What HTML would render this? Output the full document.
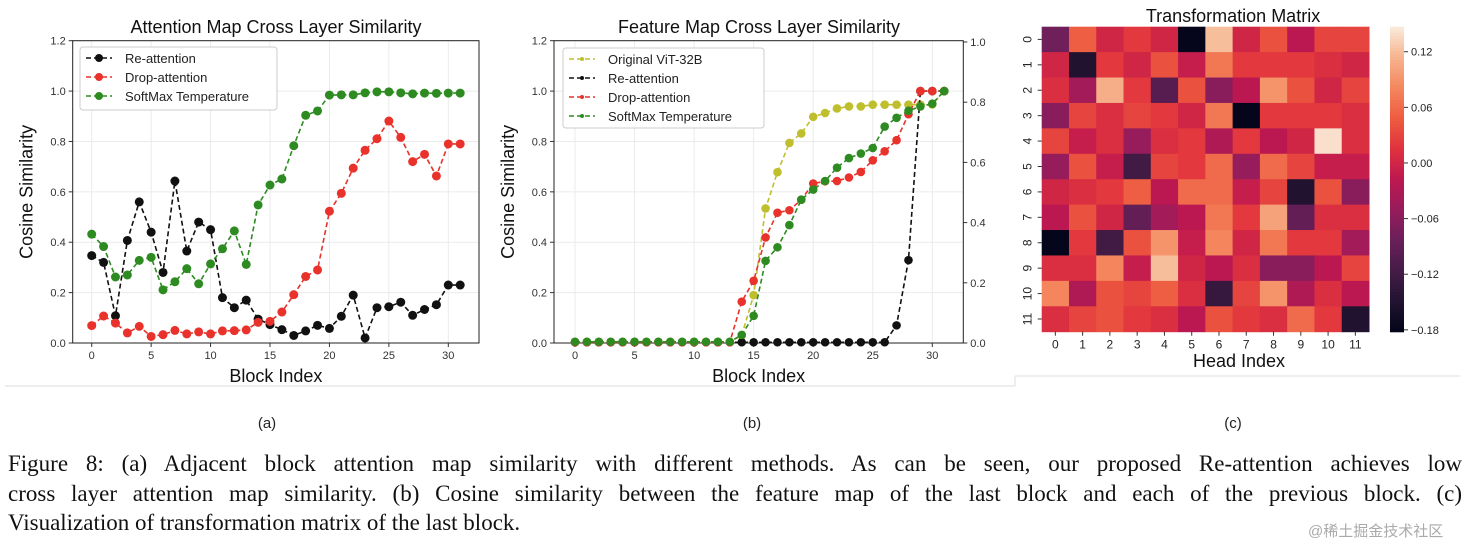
<!DOCTYPE html>
<html><head><meta charset="utf-8"><style>
body{margin:0;background:#fff;width:1474px;height:548px;overflow:hidden;position:relative;font-family:"Liberation Sans",sans-serif}
svg{position:absolute;left:0;top:0}
.cap{position:absolute;left:8px;width:1454px;font-family:"Liberation Serif",serif;font-size:23px;color:#111;text-align:justify;text-align-last:justify;white-space:nowrap}
</style></head><body>
<svg id="s" width="1474" height="548"></svg>
<div class="cap" style="top:451px;white-space:normal">Figure 8: (a) Adjacent block attention map similarity with different methods. As can be seen, our proposed Re-attention achieves low</div>
<div class="cap" style="top:481px;white-space:normal">cross layer attention map similarity. (b) Cosine similarity between the feature map of the last block and each of the previous block. (c)</div>
<div class="cap" style="top:510px;text-align-last:left">Visualization of transformation matrix of the last block.</div>
<div style="position:absolute;left:1308px;top:520px;font-family:'Liberation Sans','Noto Sans CJK SC',sans-serif;font-size:15px;color:#aaa">@稀土掘金技术社区</div>
<script>
const aRe=[0.347,0.32,0.108,0.407,0.56,0.44,0.28,0.643,0.365,0.48,0.45,0.18,0.14,0.17,0.095,0.073,0.053,0.03,0.048,0.07,0.058,0.106,0.19,0.02,0.14,0.144,0.162,0.11,0.133,0.152,0.23,0.23];
const aDrop=[0.069,0.107,0.079,0.04,0.066,0.026,0.033,0.05,0.036,0.044,0.036,0.048,0.049,0.052,0.082,0.086,0.123,0.192,0.264,0.29,0.523,0.594,0.694,0.765,0.811,0.881,0.816,0.72,0.749,0.663,0.79,0.79];
const aSoft=[0.432,0.383,0.262,0.27,0.328,0.34,0.211,0.243,0.295,0.235,0.314,0.374,0.445,0.312,0.548,0.627,0.651,0.783,0.904,0.921,0.984,0.985,0.985,0.993,0.997,0.997,0.993,0.989,0.992,0.991,0.992,0.992];
const bOrig=[0.005,0.005,0.005,0.005,0.005,0.005,0.005,0.005,0.005,0.005,0.005,0.005,0.005,0.005,0.03,0.19,0.534,0.678,0.794,0.832,0.898,0.913,0.931,0.939,0.939,0.946,0.946,0.946,0.946,0.946,0.947,1.0];
const bRe=[0.003,0.003,0.003,0.003,0.003,0.003,0.003,0.003,0.003,0.003,0.003,0.003,0.003,0.003,0.003,0.003,0.003,0.003,0.003,0.003,0.003,0.003,0.003,0.003,0.003,0.003,0.003,0.07,0.329,1.0,1.0,1.0];
const bDrop=[0.003,0.003,0.003,0.003,0.003,0.003,0.003,0.003,0.003,0.003,0.003,0.003,0.003,0.003,0.164,0.247,0.419,0.517,0.527,0.569,0.633,0.642,0.643,0.657,0.679,0.725,0.761,0.805,0.908,1.0,1.0,1.0];
const bSoft=[0.005,0.005,0.005,0.005,0.005,0.005,0.005,0.005,0.005,0.005,0.005,0.005,0.005,0.005,0.032,0.108,0.326,0.38,0.468,0.569,0.609,0.643,0.696,0.734,0.752,0.774,0.859,0.894,0.922,0.939,0.95,1.0];
const xTicks=[0,5,10,15,20,25,30];
const yTicks=["0.0","0.2","0.4","0.6","0.8","1.0","1.2"];
const y2Ticks=["0.0","0.2","0.4","0.6","0.8","1.0"];
const heat=[
[-0.08,0.05,0.0,0.02,0.0,-0.18,0.12,0.0,0.04,-0.02,0.03,0.03],
[0.0,-0.15,0.02,0.0,0.04,-0.01,0.07,0.02,0.02,0.02,0.01,0.0],
[0.01,-0.04,0.11,0.02,-0.10,0.04,-0.06,-0.02,0.09,0.04,0.0,0.03],
[-0.06,0.03,0.01,0.03,0.02,0.0,0.07,-0.18,0.02,0.02,0.02,0.01],
[0.03,-0.01,0.01,-0.05,0.01,0.02,-0.03,0.02,-0.02,0.0,0.14,0.01],
[-0.05,0.04,-0.01,-0.12,0.03,0.02,0.06,-0.05,0.06,0.03,-0.01,-0.01],
[0.0,0.01,0.02,0.05,-0.02,0.06,0.06,-0.01,0.03,-0.15,0.04,-0.06],
[-0.02,0.04,0.0,-0.09,-0.04,-0.02,0.07,0.02,0.10,-0.09,0.01,0.01],
[-0.18,0.02,-0.12,0.04,0.09,-0.01,0.08,0.0,0.07,0.02,0.02,-0.04],
[0.01,0.01,0.08,-0.01,0.12,0.0,-0.02,0.01,-0.06,-0.06,-0.02,0.03],
[0.08,-0.03,0.04,0.03,0.05,0.01,-0.13,0.03,0.09,-0.03,0.01,-0.02],
[0.01,0.03,0.04,0.02,0.01,-0.02,0.04,0.02,0.01,0.06,0.02,-0.15]];
const cbTicks=[0.12,0.06,0.0,-0.06,-0.12,-0.18];
const cbLabels=["0.12","0.06","0.00","\u22120.06","\u22120.12","\u22120.18"];

const S=document.getElementById('s');const NS='http://www.w3.org/2000/svg';
function mk(t,a,p){const e=document.createElementNS(NS,t);for(const k in a)e.setAttribute(k,a[k]);(p||S).appendChild(e);return e;}
function tx(x,y,s,sz,anc,extra){const e=mk('text',Object.assign({x:x,y:y,'font-size':sz,'text-anchor':anc||'middle','font-family':'Liberation Sans, sans-serif',fill:'#222'},extra||{}));e.textContent=s;return e;}

function lineChart(L,R,x0,x30,title,tcx,series,legend,lgBox,r,right){
  const T=40.7,B=343;
  const X=v=>x0+(x30-x0)*v/30, Y=v=>B-(B-T)*v/1.2;
  const g=mk('g',{});
  
  
  xTicks.forEach(t=>{mk('line',{x1:X(t),x2:X(t),y1:T,y2:B,stroke:'#ebebeb','stroke-width':1},g);mk('line',{x1:X(t),x2:X(t),y1:B,y2:B+4,stroke:'#333'},g);const e=tx(X(t),B+16,t,11,'middle',{fill:'#333'});g.appendChild(e);});
  yTicks.forEach((t,i)=>{const y=Y(i*0.2);mk('line',{x1:L,x2:R,y1:y,y2:y,stroke:'#ebebeb'},g);mk('line',{x1:L-4,x2:L,y1:y,y2:y,stroke:'#333'},g);const e=tx(L-7,y+4,t,11,'end',{fill:'#333'});g.appendChild(e);});
  if(right){y2Ticks.forEach((t,i)=>{const y=B-(B-42)*i/5;mk('line',{x1:R,x2:R+4,y1:y,y2:y,stroke:'#333'},g);const e=tx(R+7,y+4,t,11,'start',{fill:'#333'});g.appendChild(e);});}
  mk('rect',{x:L,y:T,width:R-L,height:B-T,fill:'none',stroke:'#222','stroke-width':1},g);
  series.forEach(s=>{
    const sg=mk('g',{},g);
    
    
    mk('polyline',{points:s.d.map((v,i)=>X(i)+','+Y(v)).join(' '),fill:'none',stroke:s.c,'stroke-width':1.6,'stroke-dasharray':'5,3'},sg);
    s.d.forEach((v,i)=>{mk('circle',{cx:X(i),cy:Y(v),r:r,fill:s.c},sg);});
  });
  const lg=mk('g',{},g);
  
  
  mk('rect',{x:lgBox[0],y:lgBox[1],width:lgBox[2],height:lgBox[3],fill:'#fff',stroke:'#ccc',rx:3},lg);
  legend.forEach((s,i)=>{const y=lgBox[1]+11+i*19;
    mk('line',{x1:lgBox[0]+6,x2:lgBox[0]+32,y1:y,y2:y,stroke:s.c,'stroke-width':1.6,'stroke-dasharray':'5,3'},lg);
    mk('circle',{cx:lgBox[0]+19,cy:y,r:s.m,fill:s.c},lg);
    const e=tx(lgBox[0]+45,y+5,s.label,13,'start',{fill:'#222'});lg.appendChild(e);});
  const t=tx(tcx,33,title,18,'middle',{fill:'#111'});
  const xl=tx((L+R)/2,382,'Block Index',18,'middle',{fill:'#111'});
  const yl=tx(0,0,'Cosine Similarity',18,'middle',{fill:'#111',transform:'translate('+(L-40)+','+((T+B)/2)+') rotate(-90)'});
}
const K='#111',RD='#e8322b',GR='#2e8b22',YL='#bfbf2e';
lineChart(72.7,479,91.7,448.3,'Attention Map Cross Layer Similarity',276,
 [{name:'re-attention',d:aRe,c:K},{name:'drop-attention',d:aDrop,c:RD},{name:'softmax-temperature',d:aSoft,c:GR}],
 [{label:'Re-attention',c:K,m:4},{label:'Drop-attention',c:RD,m:4},{label:'SoftMax Temperature',c:GR,m:4}],[80,47,197,63],4.5,false);
lineChart(554,963.3,575,932.3,'Feature Map Cross Layer Similarity',759,
 [{name:'original-vit',d:bOrig,c:YL},{name:'re-attention',d:bRe,c:K},{name:'drop-attention',d:bDrop,c:RD},{name:'softmax-temperature',d:bSoft,c:GR}],
 [{label:'Original ViT-32B',c:YL,m:2},{label:'Re-attention',c:K,m:2},{label:'Drop-attention',c:RD,m:2},{label:'SoftMax Temperature',c:GR,m:2}],[563,48,201,80],4.3,true);

const stops=[[0,[3,5,26]],[0.1,[34,19,49]],[0.2,[69,28,71]],[0.3,[107,31,90]],[0.4,[150,28,91]],[0.5,[190,24,80]],[0.6,[224,50,62]],[0.7,[238,92,64]],[0.8,[244,135,94]],[0.9,[246,180,142]],[1,[250,235,221]]];
const vmin=-0.182,vmax=0.147;
function cmap(v){let t=(v-vmin)/(vmax-vmin);t=Math.max(0,Math.min(1,t));for(let i=1;i<stops.length;i++){if(t<=stops[i][0]){const a=stops[i-1],b=stops[i],f=(t-a[0])/(b[0]-a[0]);return 'rgb('+a[1].map((c,j)=>Math.round(c+(b[1][j]-c)*f)).join(',')+')';}}return 'rgb(250,235,221)';}
const HL=1041.7,HR=1369,HT=26.7,HB=331.7,cw=(HR-HL)/12,ch=(HB-HT)/12;
const hg=mk('g',{});


heat.forEach((row,r)=>row.forEach((v,c)=>{const e=mk('rect',{x:HL+c*cw,y:HT+r*ch,width:cw+0.5,height:ch+0.5,fill:cmap(v)},hg);
 
 }));
for(let i=0;i<12;i++){
 mk('line',{x1:HL+(i+.5)*cw,x2:HL+(i+.5)*cw,y1:HB,y2:HB+4,stroke:'#333'});
 tx(HL+(i+.5)*cw,HB+17,i,12,'middle',{fill:'#222'});
 const y=HT+(i+.5)*ch;mk('line',{x1:HL-4,x2:HL,y1:y,y2:y,stroke:'#333'});
 tx(0,0,i,12,'middle',{fill:'#222',transform:'translate('+(HL-10)+','+y+') rotate(-90)'});
}
const ht=tx(1233,22,'Transformation Matrix',18,'middle',{fill:'#111'});
const hx=tx(1239,367,'Head Index',18,'middle',{fill:'#111'});
const CB0=1390,CB1=1404;
const cg=mk('g',{});


for(let i=0;i<100;i++){const y=HT+(HB-HT)*i/100;mk('rect',{x:CB0,y:y,width:CB1-CB0,height:(HB-HT)/100+0.6,fill:cmap(vmax-(vmax-vmin)*(i+.5)/100)},cg);}
cbTicks.forEach((v,i)=>{const y=HT+(vmax-v)/(vmax-vmin)*(HB-HT);mk('line',{x1:CB1,x2:CB1+4,y1:y,y2:y,stroke:'#333'},cg);const e=tx(CB1+7,y+4,cbLabels[i],11,'start',{fill:'#222'});cg.appendChild(e);});
mk('line',{x1:5,x2:1015,y1:386,y2:386,stroke:'#ddd'});
mk('line',{x1:1015,x2:1460,y1:376,y2:376,stroke:'#ddd'});
mk('line',{x1:1015,x2:1015,y1:376,y2:386,stroke:'#ddd'});
[['(a)',267],['(b)',752],['(c)',1233]].forEach(p=>{const e=tx(p[1],428,p[0],15,'middle',{fill:'#222'});});
</script>
</body></html>
